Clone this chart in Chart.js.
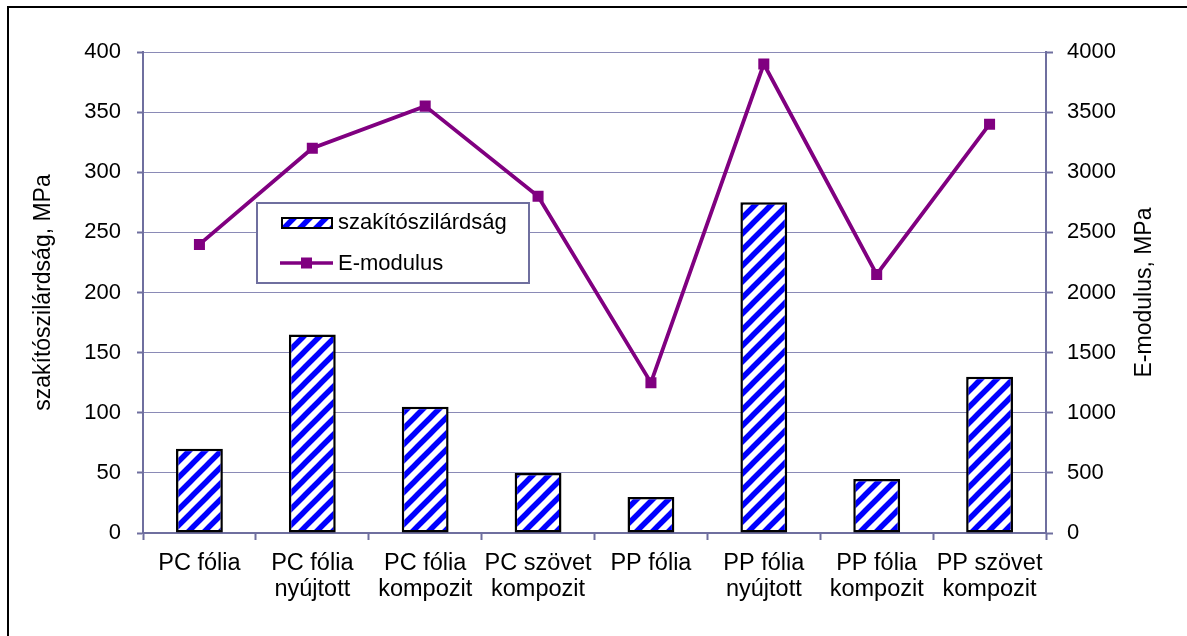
<!DOCTYPE html>
<html>
<head>
<meta charset="utf-8">
<script src="https://cdn.jsdelivr.net/npm/chart.js@4"></script>
<style>
  html, body { margin: 0; padding: 0; background: #fff; }
  #wrap { width: 1187px; height: 636px; }
</style>
</head>
<body>
<div id="wrap"><canvas id="c" width="1187" height="636"></canvas></div>
<script>
// Categories (two-line labels where the sample name wraps)
const categories = [
  ['PC fólia'],
  ['PC fólia', 'nyújtott'],
  ['PC fólia', 'kompozit'],
  ['PC szövet', 'kompozit'],
  ['PP fólia'],
  ['PP fólia', 'nyújtott'],
  ['PP fólia', 'kompozit'],
  ['PP szövet', 'kompozit']
];
// Tensile strength, MPa (left axis)
const tensileStrength = [70, 165, 105, 50, 30, 275, 45, 130];
// Young's modulus, MPa (right axis)
const eModulus = [2400, 3200, 3550, 2800, 1250, 3900, 2150, 3400];

const seriesNames = ['szakítószilárdság', 'E-modulus'];
const axisTitles = ['szakítószilárdság, MPa', 'E-modulus, MPa'];
const leftAxisRange = [0, 400, 50];
const rightAxisRange = [0, 4000, 500];

const FONT = "'Liberation Sans', Arial, sans-serif";
const AXIS = '#6f6f9f';
const GRID = '#8a8ab6';
const PURPLE = '#800080';
const BLUE = '#0000ff';

// Diagonal blue hatch used to fill the bars
function makeHatch() {
  const s = 16;
  const c = document.createElement('canvas');
  c.width = s; c.height = s;
  const g = c.getContext('2d');
  g.fillStyle = '#fff';
  g.fillRect(0, 0, s, s);
  g.strokeStyle = BLUE;
  g.lineWidth = 5.5;
  g.lineCap = 'square';
  const segs = [[0, s, s, 0], [-s, s, s, -s], [0, 2 * s, 2 * s, 0]];
  g.beginPath();
  for (const [a, b, c2, d] of segs) { g.moveTo(a, b); g.lineTo(c2, d); }
  g.stroke();
  return g.createPattern(c, 'repeat');
}

const ctx = document.getElementById('c').getContext('2d');
const hatch = makeHatch();

// White page with the frame line along the top and left
const framePlugin = {
  id: 'frame',
  beforeDraw(chart) {
    const g = chart.ctx;
    g.save();
    g.fillStyle = '#fff';
    g.fillRect(0, 0, chart.width, chart.height);
    g.strokeStyle = '#000';
    g.lineWidth = 2;
    g.strokeRect(8, 7, chart.width + 50, chart.height + 50);
    g.restore();
  }
};

// Axis titles (both read bottom-to-top) and the boxed legend inside the plot
const overlayPlugin = {
  id: 'overlay',
  afterDraw(chart) {
    const g = chart.ctx;
    const area = chart.chartArea;
    const midY = (area.top + area.bottom) / 2;
    g.save();
    g.fillStyle = '#000';
    g.font = '23px ' + FONT;
    g.textAlign = 'center';
    g.textBaseline = 'middle';
    g.save(); g.translate(44, midY); g.rotate(-Math.PI / 2); g.fillText(axisTitles[0], 0, 0); g.restore();
    g.save(); g.translate(1145, midY); g.rotate(-Math.PI / 2); g.fillText(axisTitles[1], 0, 0); g.restore();

    // legend box
    const lx = 257, ly = 203, lw = 272, lh = 80;
    g.fillStyle = '#fff';
    g.fillRect(lx, ly, lw, lh);
    g.strokeStyle = AXIS;
    g.lineWidth = 2;
    g.strokeRect(lx, ly, lw, lh);

    // bar swatch
    g.fillStyle = hatch;
    g.fillRect(282, 218, 50, 10);
    g.strokeStyle = '#000';
    g.lineWidth = 2;
    g.strokeRect(282, 218, 50, 10);

    // line swatch
    g.strokeStyle = PURPLE;
    g.lineWidth = 3.5;
    g.beginPath(); g.moveTo(280, 263); g.lineTo(333, 263); g.stroke();
    g.fillStyle = PURPLE;
    g.fillRect(306.5 - 5.5, 263 - 5.5, 11, 11);

    g.fillStyle = '#000';
    g.font = '22px ' + FONT;
    g.textAlign = 'left';
    g.textBaseline = 'middle';
    g.fillText(seriesNames[0], 338, 223);
    g.fillText(seriesNames[1], 338, 264);
    g.restore();
  }
};

new Chart(ctx, {
  data: {
    labels: categories,
    datasets: [
      {
        type: 'line',
        label: seriesNames[1],
        data: eModulus,
        yAxisID: 'y1',
        order: 1,
        borderColor: PURPLE,
        borderWidth: 3.8,
        tension: 0,
        pointStyle: 'rect',
        pointRadius: 7.8,
        pointBackgroundColor: PURPLE,
        pointBorderColor: PURPLE,
        pointBorderWidth: 0
      },
      {
        type: 'bar',
        label: seriesNames[0],
        data: tensileStrength,
        yAxisID: 'y',
        order: 2,
        backgroundColor: hatch,
        borderColor: '#000',
        borderWidth: 2.5,
        borderSkipped: false,
        barPercentage: 0.83,
        categoryPercentage: 0.5
      }
    ]
  },
  options: {
    responsive: false,
    devicePixelRatio: 1,
    animation: false,
    layout: { padding: { top: 52, left: 0, right: 0, bottom: 0 } },
    plugins: { legend: { display: false }, tooltip: { enabled: false } },
    scales: {
      x: {
        offset: true,
        grid: { offset: true, drawOnChartArea: false, drawTicks: true, tickLength: 7, tickColor: AXIS, tickWidth: 2 },
        border: { display: true, color: AXIS, width: 2 },
        ticks: { color: '#000', font: { family: FONT, size: 23.5, lineHeight: 1.11 }, padding: 10, maxRotation: 0, autoSkip: false },
        afterFit: s => { s.height = 103; }
      },
      y: {
        position: 'left',
        min: leftAxisRange[0], max: leftAxisRange[1],
        ticks: { stepSize: leftAxisRange[2], color: '#000', font: { family: FONT, size: 22 }, padding: 16, callback: v => String(v) },
        grid: { color: GRID, lineWidth: 1, tickColor: AXIS, tickLength: 6, tickWidth: 2 },
        border: { display: true, color: AXIS, width: 2 },
        afterFit: s => { s.width = 143; }
      },
      y1: {
        position: 'right',
        min: rightAxisRange[0], max: rightAxisRange[1],
        ticks: { stepSize: rightAxisRange[2], color: '#000', font: { family: FONT, size: 22 }, padding: 14, callback: v => String(v) },
        grid: { drawOnChartArea: false, tickColor: AXIS, tickLength: 7, tickWidth: 2 },
        border: { display: true, color: AXIS, width: 2 },
        afterFit: s => { s.width = 141; }
      }
    }
  },
  plugins: [framePlugin, overlayPlugin]
});
</script>
</body>
</html>
